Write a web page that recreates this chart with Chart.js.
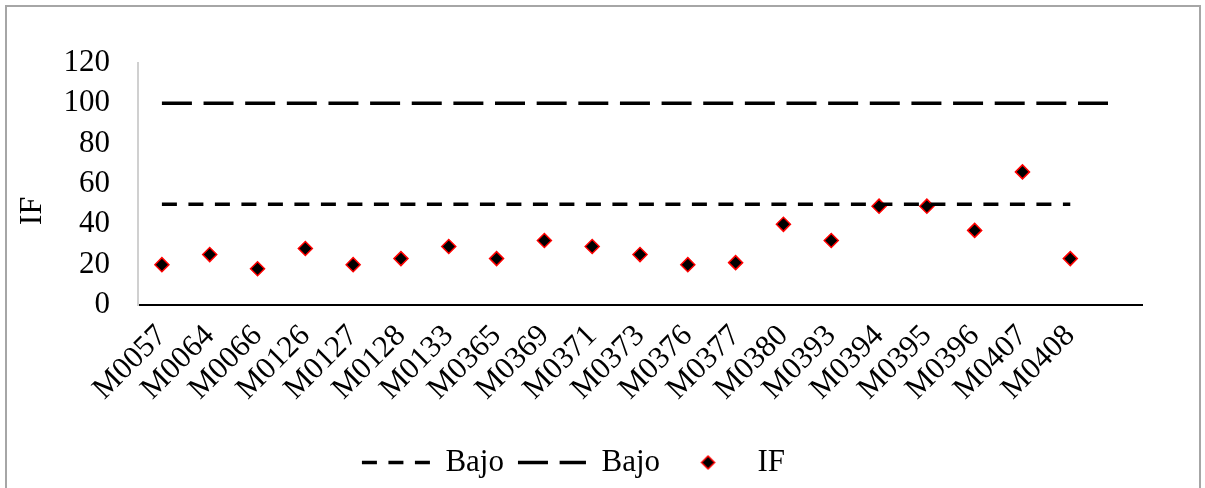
<!DOCTYPE html>
<html>
<head>
<meta charset="utf-8">
<script src="https://cdn.jsdelivr.net/npm/chart.js@4"></script>
<style>
  html, body { margin: 0; padding: 0; background: #fff; }
  #wrap { position: relative; width: 1205px; height: 488px; overflow: hidden; }
  #frame { position: absolute; left: 5px; top: 5px; width: 1196px; height: 500px; border: 2px solid #a6a6a6; box-sizing: border-box; }
  canvas { position: absolute; left: 0; top: 0; }
</style>
</head>
<body>
<div id="wrap">
  <div id="frame"></div>
  <canvas id="chart" width="1205" height="488"></canvas>
</div>
<script>
// samples (last category is empty, the upper limit line runs through it)
const categories = ["M0057", "M0064", "M0066", "M0126", "M0127", "M0128", "M0133", "M0365", "M0369", "M0371",
  "M0373", "M0376", "M0377", "M0380", "M0393", "M0394", "M0395", "M0396", "M0407", "M0408", ""];
const ifValues = [20, 25, 18, 28, 20, 23, 29, 23, 32, 29, 25, 20, 21, 40, 32, 49, 49, 37, 66, 23, null];
const lowLimit = [50, 50, 50, 50, 50, 50, 50, 50, 50, 50, 50, 50, 50, 50, 50, 50, 50, 50, 50, 50, null];
const highLimit = [100, 100, 100, 100, 100, 100, 100, 100, 100, 100, 100, 100, 100, 100, 100, 100, 100, 100, 100, 100, 100];
const yTicks = [0, 20, 40, 60, 80, 100, 120];

const FONT = '"Liberation Serif", "Times New Roman", serif';

// diamond used as legend marker so it is not stretched to the box width
function diamondImage(r) {
  const c = document.createElement("canvas");
  c.width = c.height = r * 2 + 4;
  const g = c.getContext("2d");
  const m = r + 2;
  g.beginPath();
  g.moveTo(m - r, m); g.lineTo(m, m - r); g.lineTo(m + r, m); g.lineTo(m, m + r);
  g.closePath();
  g.fillStyle = "#000";
  g.fill();
  g.lineWidth = 1.5;
  g.strokeStyle = "#ff0000";
  g.stroke();
  return c;
}
const legendDiamond = diamondImage(6.5);

const yTitle = {
  id: "yTitle",
  afterDraw(chart) {
    const ctx = chart.ctx;
    ctx.save();
    ctx.translate(41, 211);
    ctx.rotate(-Math.PI / 2);
    ctx.font = "32px " + FONT;
    ctx.fillStyle = "#000";
    ctx.textAlign = "center";
    ctx.textBaseline = "alphabetic";
    ctx.fillText("IF", 0, 0);
    ctx.restore();
  }
};

new Chart(document.getElementById("chart"), {
  type: "line",
  data: {
    labels: categories,
    datasets: [
      { label: "Bajo", data: lowLimit, borderColor: "#000", borderWidth: 3.5, borderDash: [15, 11.5],
        pointRadius: 0, fill: false, spanGaps: false },
      { label: "Bajo", data: highLimit, borderColor: "#000", borderWidth: 3.5, borderDash: [30, 11.64],
        pointRadius: 0, fill: false },
      { label: "IF", data: ifValues, showLine: false, pointStyle: "rectRot", pointRadius: 7,
        pointBackgroundColor: "#000", pointBorderColor: "#ff0000", pointBorderWidth: 1.5,
        backgroundColor: "#000", borderColor: "#ff0000" }
    ]
  },
  options: {
    responsive: false,
    animation: false,
    layout: { padding: { left: 5, right: 63, top: 63, bottom: 0 } },
    plugins: {
      tooltip: { enabled: false },
      legend: {
        position: "bottom",
        labels: {
          font: { family: FONT, size: 31 },
          color: "#000",
          usePointStyle: true,
          pointStyleWidth: 68,
          boxWidth: 68,
          boxHeight: 10,
          padding: 14,
          generateLabels(chart) {
            return chart.data.datasets.map((ds, i) => ({
              text: ds.label,
              datasetIndex: i,
              fillStyle: "#000",
              strokeStyle: "#000",
              lineWidth: 3.5,
              lineDash: ds.borderDash || [],
              pointStyle: i === 2 ? legendDiamond : "line",
              fontColor: "#000"
            }));
          }
        }
      }
    },
    scales: {
      x: {
        offset: true,
        grid: { display: false, drawTicks: false },
        border: { color: "#000", width: 2 },
        ticks: {
          font: { family: FONT, size: 31 },
          color: "#000",
          autoSkip: false,
          minRotation: 45,
          maxRotation: 45,
          padding: 13
        },
        afterFit(scale) { scale.height = 128; }
      },
      y: {
        min: 0,
        max: 120,
        grid: { display: false, drawTicks: false },
        border: { color: "#d0d0d0", width: 2 },
        afterBuildTicks(scale) { scale.ticks = yTicks.map(v => ({ value: v })); },
        ticks: {
          font: { family: FONT, size: 31 },
          color: "#000",
          padding: 28
        },
        afterFit(scale) { scale.width = 133; }
      }
    }
  },
  plugins: [yTitle]
});
</script>
</body>
</html>
